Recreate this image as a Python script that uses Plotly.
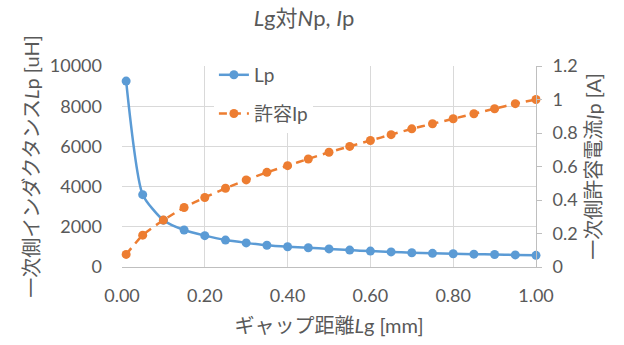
import plotly.graph_objects as go

gap_mm = [0.01, 0.05, 0.10, 0.15, 0.20, 0.25, 0.30, 0.35, 0.40, 0.45, 0.50,
          0.55, 0.60, 0.65, 0.70, 0.75, 0.80, 0.85, 0.90, 0.95, 1.00]
lp_uh = [9250, 3600, 2330, 1840, 1560, 1340, 1200, 1080, 1010, 960, 900,
         840, 790, 750, 710, 680, 660, 640, 620, 600, 580]
ip_a = [0.075, 0.19, 0.28, 0.355, 0.415, 0.47, 0.52, 0.565, 0.605, 0.645, 0.685,
        0.72, 0.755, 0.79, 0.825, 0.855, 0.885, 0.915, 0.945, 0.975, 1.0]

x_ticks = [0, 0.2, 0.4, 0.6, 0.8, 1.0]
y_ticks = [0, 2000, 4000, 6000, 8000, 10000]
y2_ticks = [0, 0.2, 0.4, 0.6, 0.8, 1.0, 1.2]

FONT = "Lato, 'Noto Sans CJK JP', sans-serif"
GRAY = "#595959"
BLUE = "#5B9BD5"
ORANGE = "#ED7D31"

fig = go.Figure()
fig.add_trace(go.Scatter(
    x=gap_mm, y=lp_uh, name="Lp", mode="lines+markers",
    line=dict(color=BLUE, width=2.5, shape="spline", smoothing=0.6),
    marker=dict(color=BLUE, size=9), cliponaxis=False, legendgroup="a"))
fig.add_trace(go.Scatter(
    x=gap_mm, y=ip_a, name="許容Ip", mode="lines+markers", yaxis="y2",
    line=dict(color=ORANGE, width=2.5, dash="8px,6px", shape="spline", smoothing=0.6),
    marker=dict(color=ORANGE, size=9), cliponaxis=False, legendgroup="b"))

fig.update_layout(
    width=624, height=345,
    margin=dict(l=122, r=88, t=66, b=78),
    paper_bgcolor="white", plot_bgcolor="white",
    font=dict(family=FONT, color=GRAY, size=18),
    title=dict(text="<i>L</i>g対<i>N</i>p, <i>I</i>p", x=304 / 624, xanchor="center",
               xref="container", y=1 - 18 / 345, yref="container", yanchor="middle",
               font=dict(size=22, color=GRAY)),
    xaxis=dict(range=[0, 1.0], tickvals=x_ticks, tickformat=".2f",
               showgrid=True, gridcolor="#d9d9d9", gridwidth=1,
               showline=True, linecolor="#bfbfbf", linewidth=1,
               zeroline=False, ticks="", automargin=False, ticklabelstandoff=12,
               tickfont=dict(size=18, color=GRAY),
               title=dict(text="ギャップ距離<i>L</i>g [mm]", standoff=14,
                          font=dict(size=20, color=GRAY))),
    yaxis=dict(range=[0, 10000], tickvals=y_ticks, tickformat="d",
               showgrid=True, gridcolor="#d9d9d9", gridwidth=1,
               showline=False, zeroline=False, ticks="", automargin=False,
               ticklabelstandoff=19, tickfont=dict(size=18, color=GRAY),
               title=dict(text="一次側インダクタンス<i>L</i>p [uH]", standoff=4,
                          font=dict(size=20, color=GRAY))),
    yaxis2=dict(range=[0, 1.2], tickvals=y2_ticks, overlaying="y", side="right",
                showgrid=False, showline=True, linecolor="#bfbfbf", linewidth=1,
                zeroline=False, ticks="outside", ticklen=5, tickcolor="#bfbfbf",
                automargin=False, ticklabelstandoff=7,
                tickfont=dict(size=18, color=GRAY),
                title=dict(text="一次側許容電流<i>I</i>p [A]", standoff=10,
                           font=dict(size=20, color=GRAY))),
    legend=dict(x=0.222, y=1.05, xanchor="left", yanchor="top",
                bgcolor="white", font=dict(size=19, color=GRAY),
                tracegroupgap=11, traceorder="grouped"),
    showlegend=True,
)

fig.write_html("out.html")
